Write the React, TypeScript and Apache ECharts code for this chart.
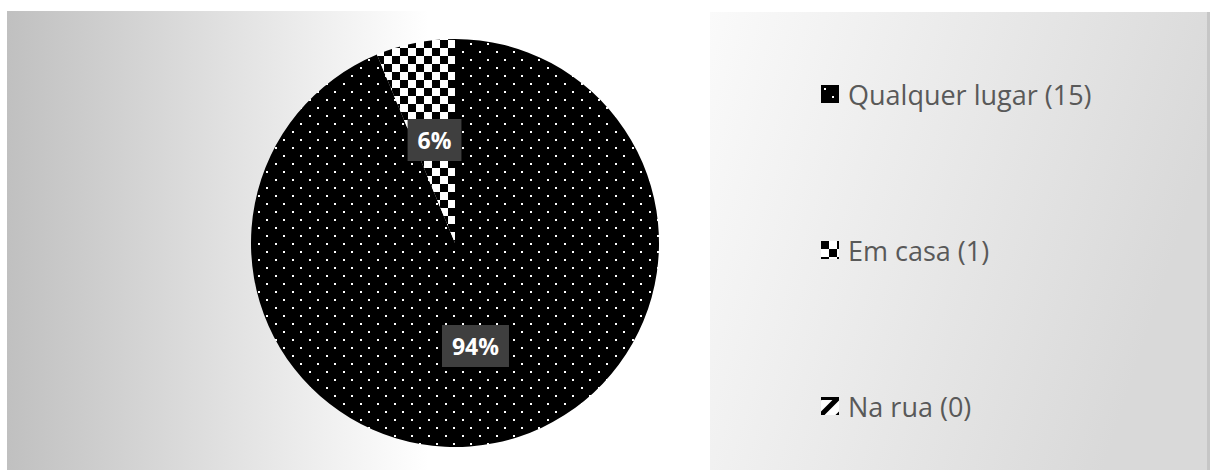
import React, { useEffect, useRef } from "react";
import * as echarts from "echarts";

const categories = ["Qualquer lugar", "Em casa", "Na rua"];
const counts = [15, 1, 0];

function makeDots(): HTMLCanvasElement {
  const c = document.createElement("canvas");
  c.width = 17;
  c.height = 16;
  const g = c.getContext("2d")!;
  g.fillStyle = "#000";
  g.fillRect(0, 0, 17, 16);
  g.fillStyle = "#fff";
  g.fillRect(3, 3, 2, 2);
  g.fillRect(11, 11, 2, 2);
  return c;
}

function makeChecker(): HTMLCanvasElement {
  const c = document.createElement("canvas");
  c.width = 16;
  c.height = 16;
  const g = c.getContext("2d")!;
  g.fillStyle = "#fff";
  g.fillRect(0, 0, 16, 16);
  g.fillStyle = "#000";
  g.fillRect(0, 0, 8, 8);
  g.fillRect(8, 8, 8, 8);
  return c;
}

function makeStripes(): HTMLCanvasElement {
  const c = document.createElement("canvas");
  c.width = 18;
  c.height = 18;
  const g = c.getContext("2d")!;
  g.fillStyle = "#fff";
  g.fillRect(0, 0, 18, 18);
  g.strokeStyle = "#000";
  g.lineWidth = 5;
  g.beginPath();
  g.moveTo(-2, 20);
  g.lineTo(20, -2);
  g.moveTo(-2, 2);
  g.lineTo(2, -2);
  g.moveTo(16, 20);
  g.lineTo(20, 16);
  g.stroke();
  g.fillStyle = "#000";
  g.fillRect(0, 0, 18, 3);
  return c;
}

export default function App() {
  const ref = useRef<HTMLDivElement>(null);
  useEffect(() => {
    if (!ref.current) return;
    const chart = echarts.init(ref.current, undefined, { renderer: "svg" });
    const patterns = [makeDots(), makeChecker(), makeStripes()];
    const total = counts.reduce((a, b) => a + b, 0);
    const data = categories.map((name, i) => ({
      name,
      value: counts[i],
      itemStyle: { color: { image: patterns[i], repeat: "repeat" } as any },
      label: counts[i] === 0 ? { show: false } : undefined,
    }));
    chart.setOption({
      animation: false,
      backgroundColor: "#ffffff",
      graphic: [
        {
          type: "rect",
          z: 0,
          shape: { x: 7, y: 11, width: 703, height: 459 },
          style: {
            fill: {
              type: "linear",
              x: 0,
              y: 0,
              x2: 1,
              y2: 0,
              colorStops: [
                { offset: 0, color: "#c0c0c0" },
                { offset: 0.6, color: "#ffffff" },
                { offset: 1, color: "#ffffff" },
              ],
            } as any,
          },
        },
        {
          type: "rect",
          z: 0,
          shape: { x: 710, y: 12, width: 498, height: 458 },
          style: {
            fill: {
              type: "linear",
              x: 0,
              y: 0,
              x2: 1,
              y2: 0.3,
              colorStops: [
                { offset: 0, color: "#fafafa" },
                { offset: 1, color: "#d9d9d9" },
              ],
            } as any,
          },
        },
        {
          type: "rect",
          z: 0,
          shape: { x: 1207, y: 12, width: 3, height: 458 },
          style: { fill: "#c6c6c6" },
        },
      ],
      legend: {
        orient: "vertical",
        left: 821,
        top: 80,
        padding: 0,
        itemWidth: 18,
        itemHeight: 18,
        itemGap: 128,
        icon: "rect",
        selectedMode: false,
        data: categories,
        formatter: (name: string) => {
          const i = categories.indexOf(name);
          return `${name} (${counts[i]})`;
        },
        textStyle: {
          fontFamily: "Open Sans",
          fontSize: 27,
          color: "#595959",
          lineHeight: 28,
          padding: [0, 0, 0, 4],
        },
      },
      series: [
        {
          type: "pie",
          z: 2,
          center: [455, 243],
          radius: 204,
          startAngle: 90,
          clockwise: true,
          avoidLabelOverlap: false,
          itemStyle: { borderWidth: 0 },
          label: {
            show: true,
            position: "inside",
            formatter: (p: any) => `${Math.round((p.value / total) * 100)}%`,
            fontFamily: "Open Sans",
            fontWeight: "bold",
            fontSize: 23,
            lineHeight: 26,
            color: "#ffffff",
            backgroundColor: "#3f3f3f",
            padding: [8, 10],
          },
          labelLine: { show: false },
          emphasis: { disabled: true },
          data,
        },
      ],
    });
    return () => chart.dispose();
  }, []);
  return (
    <div
      ref={ref}
      style={{ position: "absolute", left: 0, top: 0, width: 1210, height: 470 }}
    />
  );
}
